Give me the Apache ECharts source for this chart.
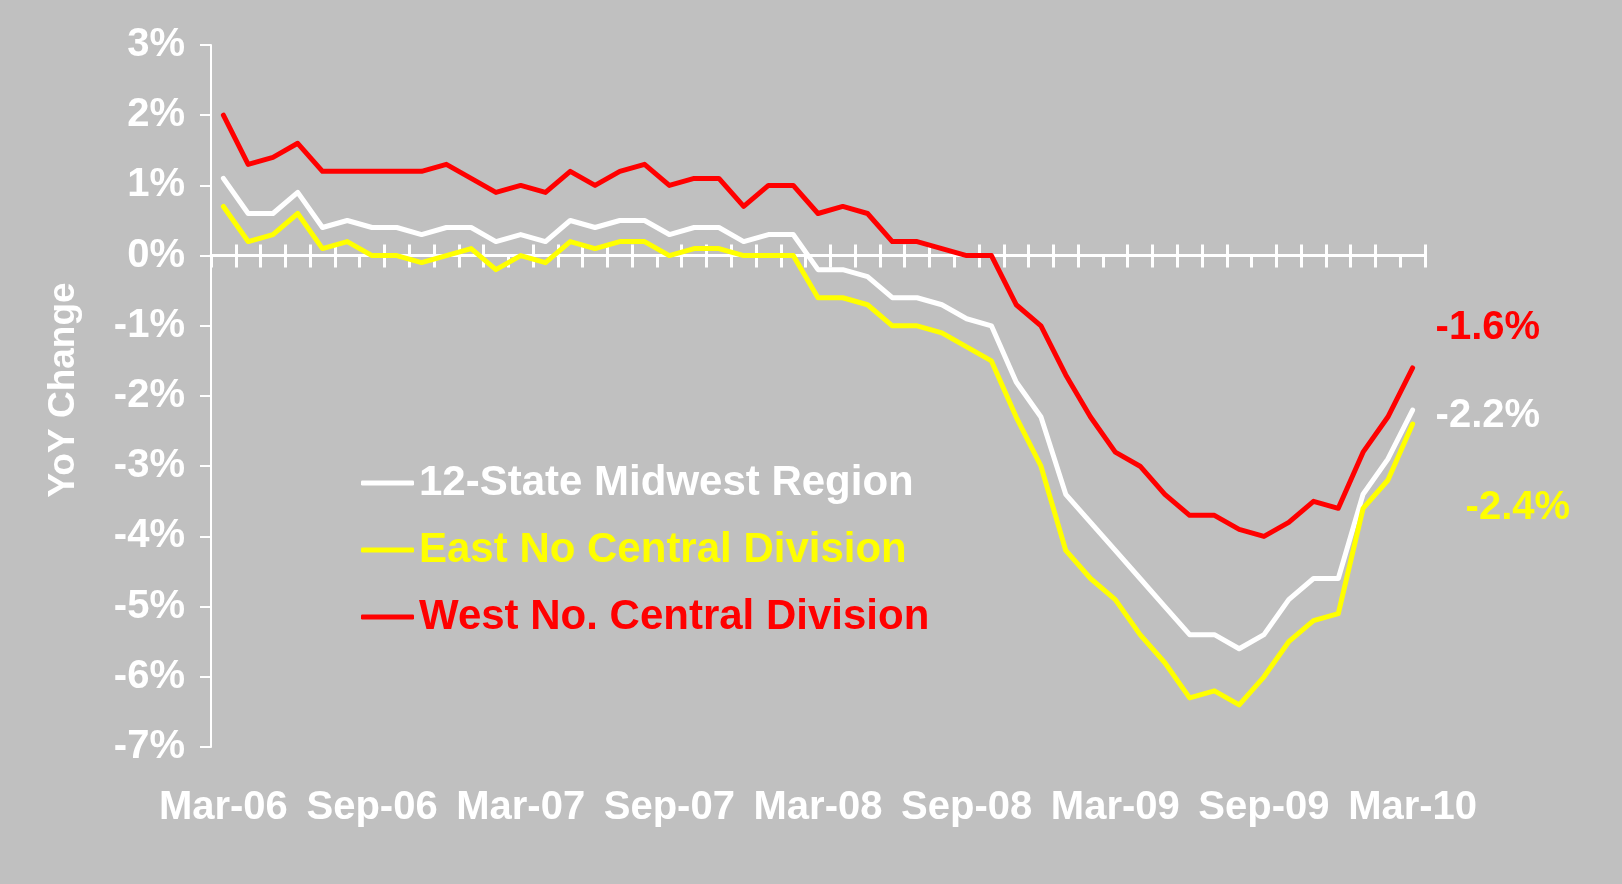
<!DOCTYPE html>
<html>
<head>
<meta charset="utf-8">
<script src="https://cdn.jsdelivr.net/npm/echarts@6/dist/echarts.min.js"></script>
<style>
  html, body { margin: 0; padding: 0; background: #c0c0c0; }
  #chart { width: 1622px; height: 884px; }
</style>
</head>
<body>
<div id="chart"></div>
<script>
// months, Mar-06 .. Mar-10
const months = [
  "Mar-06", "Apr-06", "May-06", "Jun-06", "Jul-06", "Aug-06", "Sep-06", "Oct-06", "Nov-06", "Dec-06",
  "Jan-07", "Feb-07", "Mar-07", "Apr-07", "May-07", "Jun-07", "Jul-07", "Aug-07", "Sep-07", "Oct-07",
  "Nov-07", "Dec-07", "Jan-08", "Feb-08", "Mar-08", "Apr-08", "May-08", "Jun-08", "Jul-08", "Aug-08",
  "Sep-08", "Oct-08", "Nov-08", "Dec-08", "Jan-09", "Feb-09", "Mar-09", "Apr-09", "May-09", "Jun-09",
  "Jul-09", "Aug-09", "Sep-09", "Oct-09", "Nov-09", "Dec-09", "Jan-10", "Feb-10", "Mar-10"
];

// YoY change, %
const midwest = [
  1.1, 0.6, 0.6, 0.9, 0.4, 0.5, 0.4, 0.4, 0.3, 0.4,
  0.4, 0.2, 0.3, 0.2, 0.5, 0.4, 0.5, 0.5, 0.3, 0.4,
  0.4, 0.2, 0.3, 0.3, -0.2, -0.2, -0.3, -0.6, -0.6, -0.7,
  -0.9, -1.0, -1.8, -2.3, -3.4, -3.8, -4.2, -4.6, -5.0, -5.4,
  -5.4, -5.6, -5.4, -4.9, -4.6, -4.6, -3.4, -2.9, -2.2
];
const eastNoCentral = [
  0.7, 0.2, 0.3, 0.6, 0.1, 0.2, 0.0, 0.0, -0.1, 0.0,
  0.1, -0.2, 0.0, -0.1, 0.2, 0.1, 0.2, 0.2, 0.0, 0.1,
  0.1, 0.0, 0.0, 0.0, -0.6, -0.6, -0.7, -1.0, -1.0, -1.1,
  -1.3, -1.5, -2.3, -3.0, -4.2, -4.6, -4.9, -5.4, -5.8, -6.3,
  -6.2, -6.4, -6.0, -5.5, -5.2, -5.1, -3.6, -3.2, -2.4
];
const westNoCentral = [
  2.0, 1.3, 1.4, 1.6, 1.2, 1.2, 1.2, 1.2, 1.2, 1.3,
  1.1, 0.9, 1.0, 0.9, 1.2, 1.0, 1.2, 1.3, 1.0, 1.1,
  1.1, 0.7, 1.0, 1.0, 0.6, 0.7, 0.6, 0.2, 0.2, 0.1,
  0.0, 0.0, -0.7, -1.0, -1.7, -2.3, -2.8, -3.0, -3.4, -3.7,
  -3.7, -3.9, -4.0, -3.8, -3.5, -3.6, -2.8, -2.3, -1.6
];

const FONT = '"Liberation Sans", Arial, sans-serif';
const last = months.length - 1;

// line series with a value label off the last point
const makeLine = (name, data, color, labelOffset) => ({
  name: name,
  type: "line",
  data: data,
  symbol: "none",
  lineStyle: { color: color, width: 5, cap: "round", join: "round" },
  itemStyle: { color: color },
  markPoint: {
    symbol: "circle",
    symbolSize: 0,
    data: [{ coord: [last, data[last]], value: data[last] }],
    label: {
      show: true,
      position: "right",
      distance: 0,
      offset: labelOffset,
      formatter: (p) => p.value.toFixed(1) + "%",
      color: color,
      fontFamily: FONT,
      fontWeight: "bold",
      fontSize: 40,
    },
  },
});

const chart = echarts.init(document.getElementById("chart"));
chart.setOption({
  animation: false,
  backgroundColor: "#c0c0c0",
  grid: { left: 211, right: 197, top: 45, bottom: 137 },
  legend: {
    orient: "vertical",
    left: 361,
    top: 462,
    padding: 0,
    icon: "roundRect",
    itemWidth: 53,
    itemHeight: 5,
    itemGap: 25,
    itemTextGap: 12,
    textStyle: { fontFamily: FONT, fontWeight: "bold", fontSize: 42 },
    data: [
      { name: "12-State Midwest Region", textStyle: { color: "#ffffff" } },
      { name: "East No Central Division", textStyle: { color: "#ffff00" } },
      { name: "West No. Central Division", textStyle: { color: "#ff0000" } },
    ],
  },
  xAxis: [
    {
      // zero line, ticks below
      type: "category",
      position: "bottom",
      data: months,
      boundaryGap: true,
      axisLine: { onZero: true, onZeroAxisIndex: 0, lineStyle: { color: "#ffffff", width: 3 } },
      axisTick: { show: true, inside: false, length: 12, interval: 0, lineStyle: { color: "#ffffff", width: 3 } },
      axisLabel: { show: false },
      splitLine: { show: false },
    },
    {
      // minor ticks above the zero line
      type: "category",
      position: "bottom",
      data: months,
      boundaryGap: true,
      axisLine: { show: false, onZero: true, onZeroAxisIndex: 0 },
      axisTick: {
        show: true,
        inside: true,
        length: 11,
        interval: (i) => i % 6 !== 0,
        lineStyle: { color: "#ffffff", width: 3 },
      },
      axisLabel: { show: false },
      splitLine: { show: false },
    },
    {
      // labels at the bottom
      type: "category",
      position: "bottom",
      data: months,
      boundaryGap: true,
      axisLine: { show: false, onZero: false },
      axisTick: { show: false },
      axisLabel: {
        interval: 5,
        margin: 41,
        color: "#ffffff",
        fontFamily: FONT,
        fontWeight: "bold",
        fontSize: 40,
      },
      splitLine: { show: false },
    },
  ],
  yAxis: {
    type: "value",
    min: -7,
    max: 3,
    interval: 1,
    axisLine: { show: true, lineStyle: { color: "#ffffff", width: 2 } },
    axisTick: { show: true, length: 11, lineStyle: { color: "#ffffff", width: 2 } },
    splitLine: { show: false },
    axisLabel: {
      formatter: "{value}%",
      margin: 26,
      color: "#ffffff",
      fontFamily: FONT,
      fontWeight: "bold",
      fontSize: 40,
    },
  },
  graphic: [
    {
      type: "text",
      x: 64,
      y: 390,
      rotation: Math.PI / 2,
      style: {
        text: "YoY Change",
        fill: "#ffffff",
        font: 'bold 37px "Liberation Sans", Arial, sans-serif',
        align: "center",
        verticalAlign: "middle",
      },
    },
  ],
  series: [
    makeLine("12-State Midwest Region", midwest, "#ffffff", [23, 6]),
    makeLine("East No Central Division", eastNoCentral, "#ffff00", [53, 84]),
    makeLine("West No. Central Division", westNoCentral, "#ff0000", [23, -40]),
  ],
});
</script>
</body>
</html>
